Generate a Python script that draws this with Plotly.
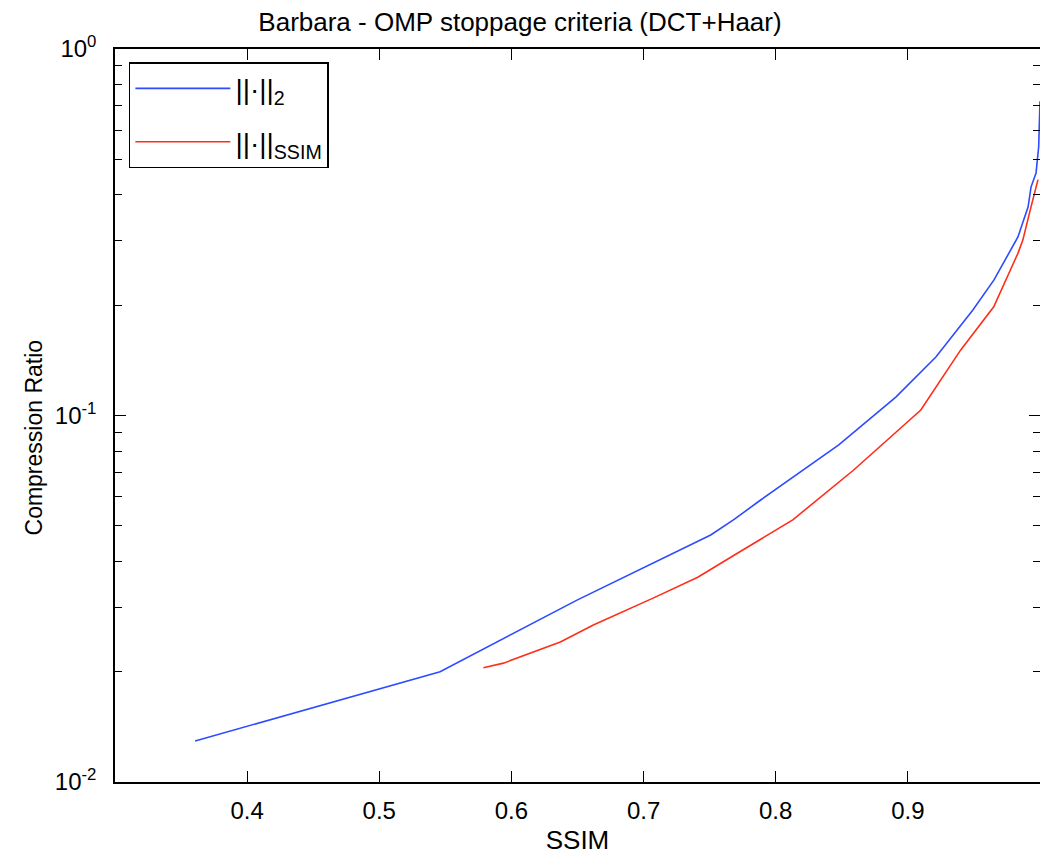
import plotly.graph_objects as go

# SSIM vs compression ratio
l2_ssim = [0.3606, 0.546, 0.65, 0.7508, 0.768, 0.7886, 0.8477, 0.8742, 0.8909,
           0.9212, 0.9492, 0.9652, 0.9833, 0.991, 0.9932, 0.997, 0.999, 1.0]
l2_ratio = [0.01294, 0.0200, 0.0314, 0.0472, 0.0519, 0.0588, 0.0831, 0.1003, 0.1123,
            0.1444, 0.194, 0.2344, 0.307, 0.371, 0.42, 0.459, 0.541, 0.72]

ssim_ssim = [0.5788, 0.594, 0.637, 0.662, 0.7076, 0.741, 0.771, 0.8038, 0.8129,
             0.859, 0.9098, 0.940, 0.965, 0.9833, 0.987, 0.9932, 0.9985]
ssim_ratio = [0.0205, 0.0211, 0.0241, 0.0268, 0.0318, 0.0362, 0.0421, 0.0496, 0.0519,
              0.071, 0.1035, 0.151, 0.198, 0.277, 0.301, 0.371, 0.44]

x_ticks = [0.4, 0.5, 0.6, 0.7, 0.8, 0.9, 1.0]
x_ticktext = ["0.4", "0.5", "0.6", "0.7", "0.8", "0.9", "1"]
y_ticks = [0.01, 0.1, 1]
y_ticktext = ["10<sup>-2</sup>", "10<sup>-1</sup>", "10<sup>0</sup>"]
y_minor = [0.02, 0.03, 0.04, 0.05, 0.06, 0.07, 0.08, 0.09,
           0.2, 0.3, 0.4, 0.5, 0.6, 0.7, 0.8, 0.9]

FONT = "Liberation Sans, Arial, sans-serif"

fig = go.Figure()
fig.add_trace(go.Scatter(x=l2_ssim, y=l2_ratio, mode="lines",
                         name="||·||<sub>2</sub>", legendgroup="a",
                         line=dict(color="rgb(45,75,255)", width=1.6)))
fig.add_trace(go.Scatter(x=ssim_ssim, y=ssim_ratio, mode="lines",
                         name="||·||<sub>SSIM</sub>", legendgroup="b",
                         line=dict(color="rgb(255,45,25)", width=1.6)))

fig.update_layout(
    width=1040, height=856,
    margin=dict(l=115, r=0, t=49, b=74),
    paper_bgcolor="white", plot_bgcolor="white",
    font=dict(family=FONT, size=24, color="black"),
    title=dict(text="Barbara - OMP stoppage criteria (DCT+Haar)",
               x=0.5, xanchor="center", y=0.975, yanchor="middle",
               font=dict(family=FONT, size=26, color="black")),
    showlegend=True,
    legend=dict(x=0.015, y=0.982, xanchor="left", yanchor="top",
                bordercolor="black", borderwidth=1.5, bgcolor="white",
                font=dict(family=FONT, size=28, color="black"),
                itemwidth=95, tracegroupgap=14, traceorder="grouped"),
    annotations=[dict(text="Compression Ratio", textangle=-90,
                      xref="paper", yref="paper", x=-0.0865, y=0.47,
                      xanchor="center", yanchor="middle", showarrow=False,
                      font=dict(family=FONT, size=23, color="black"))],
)

fig.update_xaxes(
    type="linear", range=[0.3, 1.0],
    tickvals=x_ticks, ticktext=x_ticktext,
    ticks="inside", ticklen=11, tickwidth=1.3, tickcolor="black",
    showline=True, linecolor="black", linewidth=1.5, mirror="ticks",
    showgrid=False, zeroline=False,
    tickfont=dict(family=FONT, size=24, color="black"),
    ticklabelstandoff=6,
    title=dict(text="SSIM", standoff=8, font=dict(family=FONT, size=26, color="black")),
    automargin=False,
)

fig.update_yaxes(
    type="log", range=[-2, 0],
    tickvals=y_ticks, ticktext=y_ticktext,
    ticks="inside", ticklen=11, tickwidth=1.3, tickcolor="black",
    minor=dict(tickvals=y_minor, ticks="inside", ticklen=7, tickwidth=1.3,
               tickcolor="black", showgrid=False),
    showline=True, linecolor="black", linewidth=1.5, mirror="ticks",
    showgrid=False, zeroline=False,
    tickfont=dict(family=FONT, size=24, color="black"),
    ticklabelstandoff=12,
    automargin=False,
)

fig.write_html("out.html", config={"displayModeBar": False},
               post_script="document.body.style.margin='0';document.body.style.overflow='hidden';")
